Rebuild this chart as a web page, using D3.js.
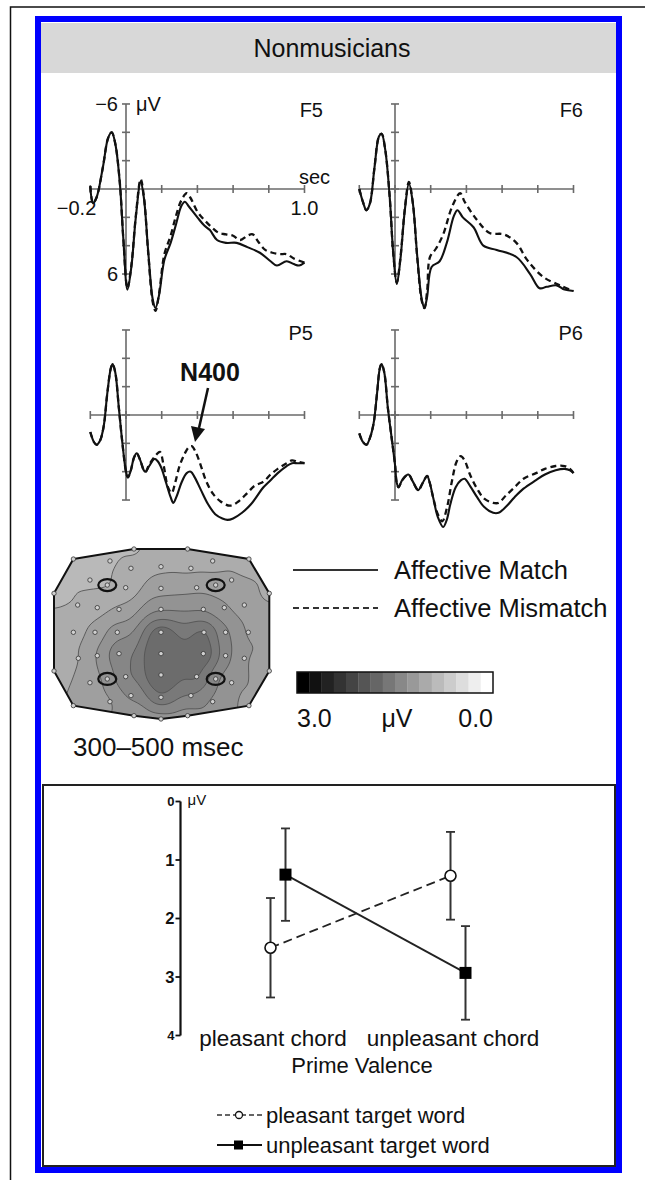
<!DOCTYPE html>
<html>
<head>
<meta charset="utf-8">
<script src="https://cdn.jsdelivr.net/npm/d3@7"></script>
<style>
  body { margin: 0; background: #fff; }
  svg { display: block; font-family: "Liberation Sans", Arial, Helvetica, sans-serif; }
</style>
</head>
<body>
<div id="chart"></div>
<script>
// ---------- ERP data: [time (s), amplitude (uV)], negative up ----------
const timeTicks = [-0.2, 0, 0.2, 0.4, 0.6, 0.8, 1.0];
const voltTicks = [-6, -4, -2, 0, 2, 4, 6];

const f5Match = [[-0.2,-0.2],[-0.185,1.0],[-0.165,0.6],[-0.13,-1.5],[-0.1,-3.6],[-0.08,-4.0],[-0.06,-3.2],[-0.035,-0.5],[-0.015,3.5],[0.008,7.1],[0.03,5.5],[0.055,2.0],[0.082,-0.5],[0.1,0.6],[0.125,4.5],[0.15,7.8],[0.165,8.4],[0.185,7.5],[0.215,5.0],[0.25,3.8],[0.28,2.5],[0.31,1.2],[0.33,0.9],[0.35,1.2],[0.4,2.0],[0.44,2.6],[0.47,2.9],[0.51,3.6],[0.56,3.8],[0.62,3.8],[0.68,4.1],[0.75,4.5],[0.81,5.1],[0.845,5.4],[0.9,5.1],[0.94,5.3],[0.97,5.4],[1.0,5.2]];
const f5Mismatch = [[-0.2,-0.2],[-0.185,1.0],[-0.165,0.6],[-0.13,-1.5],[-0.1,-3.6],[-0.08,-4.0],[-0.06,-3.2],[-0.035,-0.5],[-0.015,3.5],[0.008,7.0],[0.03,5.4],[0.055,1.9],[0.082,-0.7],[0.1,0.5],[0.125,4.6],[0.15,8.0],[0.165,8.6],[0.185,7.4],[0.215,4.6],[0.25,3.3],[0.28,1.9],[0.31,0.8],[0.34,0.3],[0.36,0.6],[0.4,1.6],[0.44,2.2],[0.48,2.7],[0.52,3.1],[0.56,3.2],[0.6,3.3],[0.64,3.6],[0.68,3.3],[0.71,3.2],[0.74,3.7],[0.78,4.3],[0.82,4.5],[0.86,4.6],[0.9,4.6],[0.94,4.9],[1.0,5.2]];

const f6Match = [[-0.2,0.0],[-0.18,0.9],[-0.16,1.5],[-0.14,1.0],[-0.115,-1.5],[-0.09,-3.7],[-0.075,-3.9],[-0.055,-2.8],[-0.03,0.5],[-0.01,4.5],[0.01,6.7],[0.03,5.0],[0.055,1.5],[0.078,-0.4],[0.1,1.0],[0.125,4.8],[0.15,7.8],[0.165,8.4],[0.18,7.6],[0.205,5.5],[0.25,5.1],[0.29,3.8],[0.33,1.9],[0.35,1.5],[0.38,2.0],[0.44,2.7],[0.495,4.0],[0.57,4.3],[0.68,4.8],[0.757,6.0],[0.81,7.0],[0.85,6.9],[0.906,6.8],[0.95,7.1],[1.0,7.2]];
const f6Mismatch = [[-0.2,0.0],[-0.18,0.9],[-0.16,1.5],[-0.14,1.0],[-0.115,-1.5],[-0.09,-3.7],[-0.075,-3.9],[-0.055,-2.8],[-0.03,0.5],[-0.01,4.5],[0.01,6.6],[0.03,4.9],[0.055,1.4],[0.078,-0.5],[0.1,1.0],[0.125,4.9],[0.15,7.9],[0.165,8.4],[0.18,7.2],[0.196,4.8],[0.23,4.2],[0.27,3.2],[0.32,1.25],[0.365,0.3],[0.39,0.9],[0.46,2.2],[0.53,3.1],[0.61,3.2],[0.68,3.8],[0.74,5.0],[0.83,6.2],[0.925,6.8],[1.0,7.2]];

const p5Match = [[-0.2,1.2],[-0.18,1.9],[-0.165,2.1],[-0.145,1.8],[-0.125,0.8],[-0.105,-1.5],[-0.085,-3.3],[-0.075,-3.6],[-0.06,-3.0],[-0.04,-0.5],[-0.02,2.0],[0.0,4.0],[0.01,4.4],[0.025,4.0],[0.045,3.0],[0.06,2.7],[0.08,3.2],[0.1,3.9],[0.11,4.0],[0.13,3.6],[0.16,3.1],[0.18,3.3],[0.2,3.8],[0.225,4.8],[0.25,5.8],[0.265,6.2],[0.285,5.7],[0.31,4.8],[0.34,4.1],[0.363,4.0],[0.385,4.4],[0.42,5.3],[0.46,6.3],[0.5,7.0],[0.54,7.3],[0.568,7.4],[0.6,7.3],[0.65,6.9],[0.7,6.3],[0.77,5.1],[0.81,4.6],[0.85,4.1],[0.9,3.6],[0.93,3.4],[0.96,3.4],[1.0,3.4]];
const p5Mismatch = [[-0.2,1.2],[-0.18,1.9],[-0.165,2.1],[-0.145,1.8],[-0.125,0.8],[-0.105,-1.5],[-0.085,-3.3],[-0.075,-3.6],[-0.06,-3.0],[-0.04,-0.5],[-0.02,2.0],[0.0,4.0],[0.01,4.4],[0.025,4.0],[0.045,3.0],[0.06,2.7],[0.08,3.2],[0.1,3.9],[0.11,4.0],[0.13,3.5],[0.17,2.8],[0.19,2.6],[0.21,3.5],[0.235,5.1],[0.256,5.5],[0.275,4.8],[0.3,3.6],[0.33,2.7],[0.35,2.3],[0.368,2.2],[0.39,2.6],[0.42,3.6],[0.45,4.7],[0.49,5.6],[0.53,6.1],[0.583,6.4],[0.63,6.1],[0.68,5.5],[0.72,5.0],[0.77,4.7],[0.81,4.2],[0.85,3.8],[0.9,3.4],[0.93,3.2],[0.96,3.3],[1.0,3.4]];

const p6Match = [[-0.2,1.3],[-0.18,1.9],[-0.16,2.1],[-0.14,1.6],[-0.12,0.6],[-0.1,-1.6],[-0.085,-3.3],[-0.075,-3.6],[-0.06,-3.0],[-0.04,-0.5],[-0.02,1.5],[0.0,3.5],[0.01,4.8],[0.02,5.1],[0.04,4.6],[0.075,4.2],[0.1,4.7],[0.13,5.3],[0.155,4.8],[0.18,4.3],[0.195,4.8],[0.215,5.9],[0.24,7.2],[0.27,7.9],[0.29,7.4],[0.31,6.3],[0.34,5.1],[0.37,4.6],[0.39,4.5],[0.42,5.0],[0.46,5.8],[0.5,6.5],[0.55,6.9],[0.58,6.9],[0.62,6.5],[0.67,5.8],[0.72,5.2],[0.79,4.6],[0.84,4.2],[0.9,3.9],[0.95,3.8],[0.98,3.9],[1.0,4.1]];
const p6Mismatch = [[-0.2,1.3],[-0.18,1.9],[-0.16,2.1],[-0.14,1.6],[-0.12,0.6],[-0.1,-1.6],[-0.085,-3.3],[-0.075,-3.6],[-0.06,-3.0],[-0.04,-0.5],[-0.02,1.5],[0.0,3.5],[0.01,4.8],[0.02,5.1],[0.04,4.6],[0.075,4.2],[0.1,4.7],[0.13,5.3],[0.155,4.8],[0.18,4.3],[0.195,4.8],[0.215,5.9],[0.24,7.0],[0.265,7.5],[0.29,6.6],[0.32,4.6],[0.345,3.3],[0.368,2.9],[0.39,3.2],[0.42,4.2],[0.46,5.2],[0.5,5.9],[0.55,6.2],[0.58,6.2],[0.62,5.7],[0.67,5.1],[0.72,4.5],[0.79,4.1],[0.84,3.8],[0.9,3.6],[0.95,3.6],[0.98,3.8],[1.0,4.1]];

// ---------- topographic map: electrode positions (normalised head coords) and mean amplitude 300-500 ms ----------
const electrodePos = [
  [-0.480,-0.859],[0.474,-0.859],
  [-0.285,-0.773],[-0.006,-0.792],[0.272,-0.773],
  [-0.666,-0.635],[-0.505,-0.576],[-0.334,-0.545],[-0.006,-0.537],[0.325,-0.545],[0.502,-0.576],[0.650,-0.635],
  [-0.780,-0.341],[-0.598,-0.310],[-0.396,-0.290],[-0.006,-0.290],[0.387,-0.290],[0.582,-0.310],[0.768,-0.341],
  [-0.820,-0.020],[-0.619,-0.020],[-0.412,-0.020],[-0.006,-0.020],[0.393,-0.020],[0.594,-0.020],[0.805,-0.020],
  [-0.774,0.286],[-0.598,0.255],[-0.396,0.231],[-0.006,0.231],[0.387,0.231],[0.594,0.255],[0.768,0.286],
  [-0.666,0.573],[-0.505,0.529],[-0.334,0.502],[-0.006,0.482],[0.325,0.502],[0.502,0.529],[0.650,0.573],
  [-0.480,0.796],[-0.285,0.725],[-0.006,0.745],[0.272,0.725],[0.474,0.796]
];
const electrodeVal = [
  0.87, 0.95,
  0.95, 1.01, 1.01,
  0.86, 0.87, 0.95, 1.13, 1.17, 1.13, 1.07,
  0.90, 0.98, 1.07, 1.33, 1.34, 1.22, 1.10,
  0.96, 1.10, 1.30, 1.80, 1.74, 1.38, 1.16,
  1.02, 1.22, 1.52, 1.92, 1.86, 1.42, 1.19,
  1.08, 1.25, 1.52, 1.92, 1.74, 1.38, 1.20,
  1.16, 1.40, 1.66, 1.50, 1.31
];
const ringedElectrodes = [6, 10, 34, 38];
const outlinePos = [[-0.820,-0.882],[-0.257,-1.0],[0.241,-1.0],[0.811,-0.882],[1.0,-0.478],[1.0,0.435],[0.811,0.843],[0.241,0.961],[-0.006,1.0],[-0.257,0.961],[-0.820,0.843],[-1.0,0.435],[-1.0,-0.478]];
const outlineVal = [0.83, 0.86, 0.87, 0.95, 1.01, 1.07, 1.13, 1.25, 1.25, 1.19, 1.04, 0.92, 0.83];
const contourLevels = [0.75, 0.9, 1.05, 1.2, 1.35, 1.5, 1.65];
const scaleCells = [3.0, 2.8, 2.6, 2.4, 2.2, 2.0, 1.8, 1.6, 1.4, 1.2, 1.0, 0.8, 0.6, 0.4, 0.2, 0.0];

// ---------- N400 means (uV) by prime valence ----------
const primeCategories = ['pleasant chord', 'unpleasant chord'];
const targetSeries = ['pleasant target word', 'unpleasant target word'];
const pleasantTargetMean = [2.50, 1.27];
const pleasantTargetErr = [0.85, 0.75];
const unpleasantTargetMean = [1.25, 2.93];
const unpleasantTargetErr = [0.79, 0.80];
const barTicks = [0, 1, 2, 3, 4];

// ------------------------------------------------------------
const W = 645, H = 1180;
const svg = d3.select('#chart').append('svg').attr('width', W).attr('height', H);

// frames
svg.append('rect').attr('x', 10.5).attr('y', 7).attr('width', 660).attr('height', 1200)
  .attr('fill', 'none').attr('stroke', '#111').attr('stroke-width', 1.5);
svg.append('rect').attr('x', 38).attr('y', 19).attr('width', 581).attr('height', 1151)
  .attr('fill', '#fff').attr('stroke', '#0000ff').attr('stroke-width', 6);
svg.append('rect').attr('x', 41).attr('y', 23).attr('width', 575).attr('height', 50).attr('fill', '#d8d8d8');
svg.append('text').attr('x', 332).attr('y', 48).attr('dy', '0.35em').attr('text-anchor', 'middle')
  .attr('font-size', 25).attr('fill', '#111').text('Nonmusicians');

// ---------- ERP panels ----------
const panels = [
  { label: 'F5', match: f5Match, mismatch: f5Mismatch, x0: 126, y0: 189, lx: 323, ly: 110 },
  { label: 'F6', match: f6Match, mismatch: f6Mismatch, x0: 395, y0: 189, lx: 583, ly: 110 },
  { label: 'P5', match: p5Match, mismatch: p5Mismatch, x0: 126, y0: 415, lx: 313, ly: 333 },
  { label: 'P6', match: p6Match, mismatch: p6Mismatch, x0: 395, y0: 415, lx: 583, ly: 333 }
];
const pxPerSec = 178.5, pxPerUV = 14.17;

panels.forEach(function(p, i) {
  const x = d3.scaleLinear().domain([0, 1]).range([p.x0, p.x0 + pxPerSec]);
  const y = d3.scaleLinear().domain([0, 6]).range([p.y0, p.y0 + 6 * pxPerUV]);
  const g = svg.append('g');
  const axisCol = '#6a6a6a';

  // x axis along 0 uV
  g.append('line').attr('x1', x(timeTicks[0])).attr('x2', x(timeTicks[timeTicks.length - 1]))
    .attr('y1', y(0)).attr('y2', y(0)).attr('stroke', axisCol).attr('stroke-width', 1.6);
  g.selectAll('.xt').data(timeTicks).enter().append('line')
    .attr('x1', d => x(d)).attr('x2', d => x(d)).attr('y1', y(0) - 4).attr('y2', y(0) + 4)
    .attr('stroke', axisCol).attr('stroke-width', 1.6);
  // y axis at 0 s
  g.append('line').attr('x1', x(0)).attr('x2', x(0)).attr('y1', y(voltTicks[0])).attr('y2', y(voltTicks[voltTicks.length - 1]))
    .attr('stroke', axisCol).attr('stroke-width', 1.6);
  g.selectAll('.yt').data(voltTicks).enter().append('line')
    .attr('x1', x(0) - 4).attr('x2', x(0) + 4).attr('y1', d => y(d)).attr('y2', d => y(d))
    .attr('stroke', axisCol).attr('stroke-width', 1.6);

  const line = d3.line().x(d => x(d[0])).y(d => y(d[1])).curve(d3.curveCatmullRom.alpha(0.5));
  g.append('path').attr('d', line(p.mismatch)).attr('fill', 'none').attr('stroke', '#111')
    .attr('stroke-width', 2.3).attr('stroke-dasharray', '6,4');
  g.append('path').attr('d', line(p.match)).attr('fill', 'none').attr('stroke', '#111').attr('stroke-width', 2.1);

  g.append('text').attr('x', p.lx).attr('y', p.ly).attr('dy', '0.35em').attr('text-anchor', 'end')
    .attr('font-size', 20).attr('fill', '#111').text(p.label);

  if (i === 0) {
    const lab = [
      { t: '\u22126', x: x(0) - 8, y: y(-6), a: 'end' },
      { t: '\u03bcV', x: x(0) + 10, y: y(-6), a: 'start' },
      { t: '6', x: x(0) - 8, y: y(6), a: 'end' },
      { t: '\u22120.2', x: x(-0.2) + 6, y: y(0) + 19, a: 'end' },
      { t: '1.0', x: x(1.0), y: y(0) + 19, a: 'middle' },
      { t: 'sec', x: x(1.0) + 10, y: y(0) - 12, a: 'middle' }
    ];
    g.selectAll('.lab').data(lab).enter().append('text')
      .attr('x', d => d.x).attr('y', d => d.y).attr('dy', '0.35em').attr('text-anchor', d => d.a)
      .attr('font-size', 20).attr('fill', '#111').text(d => d.t);
  }
  if (i === 2) {
    g.append('text').attr('x', 210).attr('y', 372).attr('dy', '0.35em').attr('text-anchor', 'middle')
      .attr('font-size', 25).attr('font-weight', 'bold').attr('fill', '#111').text('N400');
    g.append('line').attr('x1', 208).attr('y1', 388).attr('x2', 199).attr('y2', 428)
      .attr('stroke', '#111').attr('stroke-width', 2.5);
    g.append('path').attr('d', 'M191,426 L205,429 L195,442 Z').attr('fill', '#111');
  }
});

// ---------- topographic map ----------
const mapX = d3.scaleLinear().domain([-1, 1]).range([54, 269.3]);
const mapY = d3.scaleLinear().domain([-1, 1]).range([549, 719]);
const allPts = electrodePos.concat(outlinePos).map(d => [mapX(d[0]), mapY(d[1])]);
const allVals = electrodeVal.concat(outlineVal);
const cell = 2, gx0 = 53, gy0 = 548;
const gw = 109, gh = 87;
const grid = new Float64Array(gw * gh);
for (let j = 0; j < gh; j++) {
  for (let i = 0; i < gw; i++) {
    const px = gx0 + (i + 0.5) * cell, py = gy0 + (j + 0.5) * cell;
    let num = 0, den = 0, hit = -1;
    for (let k = 0; k < allPts.length; k++) {
      const dx = px - allPts[k][0], dy = py - allPts[k][1];
      const d2 = dx * dx + dy * dy;
      if (d2 < 1e-6) { hit = k; break; }
      const w = 1 / (d2 * Math.sqrt(d2));
      num += w * allVals[k]; den += w;
    }
    grid[j * gw + i] = hit >= 0 ? allVals[hit] : num / den;
  }
}
d3.blur2({ data: grid, width: gw, height: gh }, 3);

const grey = d3.scaleLinear().domain([0, 3]).range(['#ffffff', '#000000']);
const outlinePx = outlinePos.map(d => [mapX(d[0]), mapY(d[1])]);
const outlineStr = outlinePx.map(d => d.join(',')).join(' ');
svg.append('clipPath').attr('id', 'head').append('polygon').attr('points', outlineStr);

const topo = svg.append('g').attr('clip-path', 'url(#head)');
const contours = d3.contours().size([gw, gh]).thresholds(contourLevels)(Array.from(grid));
const cpath = d3.geoPath(d3.geoIdentity().scale(cell).translate([gx0, gy0]));
topo.append('polygon').attr('points', outlineStr).attr('fill', grey(0.72));
topo.selectAll('.band').data(contours).enter().append('path')
  .attr('d', cpath).attr('fill', d => grey(d.value + 0.075))
  .attr('stroke', '#555').attr('stroke-width', 0.9);

svg.append('polygon').attr('points', outlineStr)
  .attr('fill', 'none').attr('stroke', '#111').attr('stroke-width', 2);
svg.selectAll('.elec').data(electrodePos.concat(outlinePos)).enter().append('circle')
  .attr('cx', d => mapX(d[0])).attr('cy', d => mapY(d[1])).attr('r', 2.2)
  .attr('fill', '#d0d0d0').attr('stroke', '#333').attr('stroke-width', 0.8);
svg.selectAll('.ring').data(ringedElectrodes).enter().append('ellipse')
  .attr('cx', d => mapX(electrodePos[d][0])).attr('cy', d => mapY(electrodePos[d][1]))
  .attr('rx', 9).attr('ry', 6).attr('fill', 'none').attr('stroke', '#111').attr('stroke-width', 2.2);
svg.append('text').attr('x', 73).attr('y', 747).attr('dy', '0.35em').attr('font-size', 26)
  .attr('fill', '#111').text('300\u2013500 msec');

// ERP legend
svg.append('line').attr('x1', 293).attr('x2', 378).attr('y1', 570).attr('y2', 570)
  .attr('stroke', '#333').attr('stroke-width', 2);
svg.append('line').attr('x1', 293).attr('x2', 378).attr('y1', 608).attr('y2', 608)
  .attr('stroke', '#333').attr('stroke-width', 2).attr('stroke-dasharray', '6,4');
svg.append('text').attr('x', 394).attr('y', 570).attr('dy', '0.35em').attr('font-size', 25.5)
  .attr('fill', '#111').text('Affective Match');
svg.append('text').attr('x', 394).attr('y', 608).attr('dy', '0.35em').attr('font-size', 25.5)
  .attr('fill', '#111').text('Affective Mismatch');

// colour scale bar
const sb = d3.scaleBand().domain(d3.range(scaleCells.length)).range([297, 493]);
svg.selectAll('.sc').data(scaleCells).enter().append('rect')
  .attr('x', (d, i) => sb(i)).attr('y', 672).attr('width', sb.bandwidth() + 0.3).attr('height', 21)
  .attr('fill', d => grey(d));
svg.append('rect').attr('x', 297).attr('y', 672).attr('width', 196).attr('height', 21)
  .attr('fill', 'none').attr('stroke', '#111').attr('stroke-width', 1.5);
svg.append('text').attr('x', 297).attr('y', 718).attr('dy', '0.35em').attr('font-size', 25).attr('fill', '#111').text('3.0');
svg.append('text').attr('x', 397).attr('y', 718).attr('dy', '0.35em').attr('font-size', 25).attr('text-anchor', 'middle').attr('fill', '#111').text('\u03bcV');
svg.append('text').attr('x', 493).attr('y', 718).attr('dy', '0.35em').attr('font-size', 25).attr('text-anchor', 'end').attr('fill', '#111').text('0.0');

// ---------- bottom panel: interaction plot ----------
svg.append('rect').attr('x', 43).attr('y', 785).attr('width', 572).attr('height', 381)
  .attr('fill', '#fff').attr('stroke', '#222').attr('stroke-width', 2);

const by = d3.scaleLinear().domain([0, 4]).range([801.5, 1035.5]);
const bx = d3.scalePoint().domain(primeCategories).range([278, 458]);
const off = d3.scalePoint().domain(targetSeries).range([-7.5, 7.5]);
const axX = 180.5;

svg.append('line').attr('x1', axX).attr('x2', axX).attr('y1', by(0)).attr('y2', by(4))
  .attr('stroke', '#111').attr('stroke-width', 2.2);
svg.selectAll('.bt').data(barTicks).enter().append('line')
  .attr('x1', axX - 5).attr('x2', axX).attr('y1', d => by(d)).attr('y2', d => by(d))
  .attr('stroke', '#111').attr('stroke-width', 1.8);
svg.selectAll('.btl').data(barTicks).enter().append('text')
  .attr('x', axX - 6).attr('y', d => by(d)).attr('dy', '0.36em').attr('text-anchor', 'end')
  .attr('font-size', (d, i) => (i === 0 || i === barTicks.length - 1) ? 13 : 16.5)
  .attr('font-weight', 'bold').attr('fill', '#111').text(d => d);
svg.append('text').attr('x', axX + 7).attr('y', by(0) - 2).attr('dy', '0.35em').attr('font-size', 15)
  .attr('fill', '#111').text('\u03bcV');

const series = [
  { name: targetSeries[0], mean: pleasantTargetMean, err: pleasantTargetErr, dash: '9,5' },
  { name: targetSeries[1], mean: unpleasantTargetMean, err: unpleasantTargetErr, dash: null }
];
series.forEach(function(s) {
  const pts = primeCategories.map((c, i) => ({ x: bx(c) + off(s.name), v: s.mean[i], e: s.err[i] }));
  const g = svg.append('g');
  g.append('path').attr('d', d3.line().x(d => d.x).y(d => by(d.v))(pts))
    .attr('fill', 'none').attr('stroke', '#222').attr('stroke-width', 1.8)
    .attr('stroke-dasharray', s.dash);
  pts.forEach(function(d) {
    g.append('line').attr('x1', d.x).attr('x2', d.x).attr('y1', by(d.v - d.e)).attr('y2', by(d.v + d.e))
      .attr('stroke', '#333').attr('stroke-width', 2);
    [d.v - d.e, d.v + d.e].forEach(function(c) {
      g.append('line').attr('x1', d.x - 4.5).attr('x2', d.x + 4.5).attr('y1', by(c)).attr('y2', by(c))
        .attr('stroke', '#333').attr('stroke-width', 1.8);
    });
  });
  if (s.dash) {
    g.selectAll('.m').data(pts).enter().append('circle').attr('cx', d => d.x).attr('cy', d => by(d.v))
      .attr('r', 5.5).attr('fill', '#fff').attr('stroke', '#111').attr('stroke-width', 1.6);
  } else {
    g.selectAll('.m').data(pts).enter().append('rect').attr('x', d => d.x - 6).attr('y', d => by(d.v) - 6)
      .attr('width', 12).attr('height', 12).attr('fill', '#000');
  }
});

svg.selectAll('.cat').data(primeCategories).enter().append('text')
  .attr('x', d => bx(d) - 5).attr('y', 1038).attr('dy', '0.35em').attr('text-anchor', 'middle')
  .attr('font-size', 22.5).attr('fill', '#111').text(d => d);
svg.append('text').attr('x', 362).attr('y', 1065).attr('dy', '0.35em').attr('text-anchor', 'middle')
  .attr('font-size', 22).attr('fill', '#111').text('Prime Valence');

// legend
const legY = d3.scalePoint().domain(targetSeries).range([1115, 1145]);
svg.append('line').attr('x1', 217).attr('x2', 262).attr('y1', legY(targetSeries[0])).attr('y2', legY(targetSeries[0]))
  .attr('stroke', '#333').attr('stroke-width', 1.5).attr('stroke-dasharray', '5,3');
svg.append('circle').attr('cx', 239).attr('cy', legY(targetSeries[0])).attr('r', 3.5)
  .attr('fill', '#fff').attr('stroke', '#111').attr('stroke-width', 1.3);
svg.append('line').attr('x1', 217).attr('x2', 262).attr('y1', legY(targetSeries[1])).attr('y2', legY(targetSeries[1]))
  .attr('stroke', '#111').attr('stroke-width', 2);
svg.append('rect').attr('x', 234).attr('y', legY(targetSeries[1]) - 4.5).attr('width', 9).attr('height', 9).attr('fill', '#000');
svg.selectAll('.leg').data(targetSeries).enter().append('text')
  .attr('x', 266).attr('y', d => legY(d)).attr('dy', '0.35em').attr('font-size', 22)
  .attr('fill', '#111').text(d => d);
</script>
</body>
</html>
